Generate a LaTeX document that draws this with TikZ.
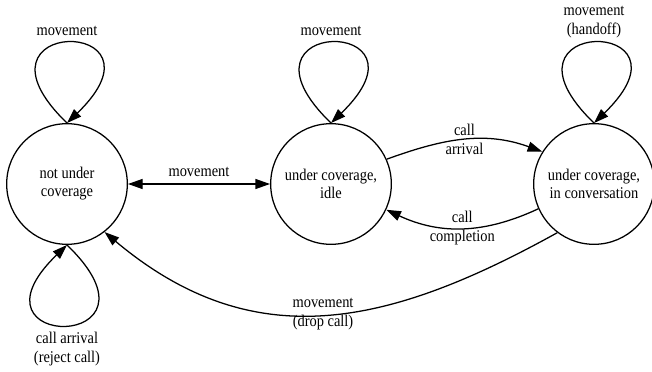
\documentclass[tikz,border=0pt]{standalone}
\usepackage{fontspec}
\setmainfont{Liberation Serif}[FakeStretch=0.88]
\usetikzlibrary{arrows.meta}
\begin{document}
\begin{tikzpicture}[x=0.75pt,y=0.75pt,
  state/.style={draw, circle, line width=0.95pt, minimum size=90.5pt, inner sep=0pt,
                align=center, font=\fontsize{12.3}{13.5}\selectfont},
  trans/.style={line width=0.95pt, -{Triangle[length=11pt,width=7.5pt]}},
  lbl/.style={align=center, inner sep=0pt, font=\fontsize{12.3}{14.2}\selectfont}]
\useasboundingbox (0,0) rectangle (652,371);

% states
\node[state] (nuc)  at (67,187)  {not under\\coverage};
\node[state] (idle) at (331,187) {under coverage,\\idle};
\node[state] (conv) at (594,187) {under coverage,\\in conversation};

% self loops
\draw[trans] (nuc.north) .. controls +(-111,107) and +(111,107) .. (nuc.north)
  node[lbl, pos=.5, yshift=8.5pt] {movement};
\draw[trans] (nuc.south) .. controls +(111,-107) and +(-111,-107) .. (nuc.south)
  node[lbl, pos=.5, yshift=-18pt] {call arrival\\(reject call)};
\draw[trans] (idle.north) .. controls +(-111,107) and +(111,107) .. (idle.north)
  node[lbl, pos=.5, yshift=8.5pt] {movement};
\draw[trans] (conv.north) .. controls +(-111,107) and +(111,107) .. (conv.north)
  node[lbl, pos=.5, yshift=15.2pt] {movement\\(handoff)};

% transitions between states
\draw[line width=0.95pt, {Triangle[length=11pt,width=7.5pt]}-{Triangle[length=11pt,width=7.5pt]}]
  (nuc) -- node[lbl, above=4.9pt] {movement} (idle);
\draw[trans] (idle.24) to[out=20, in=160]
  node[lbl] {call\\arrival} (conv.148);
\draw[trans] (conv.204) to[out=205, in=-25]
  node[lbl] {call\\completion} (idle.335);
\draw[trans] (conv.233) to[out=209, in=-40, looseness=1.1]
  node[lbl] {movement\\(drop call)} (nuc.308);
\end{tikzpicture}
\end{document}
